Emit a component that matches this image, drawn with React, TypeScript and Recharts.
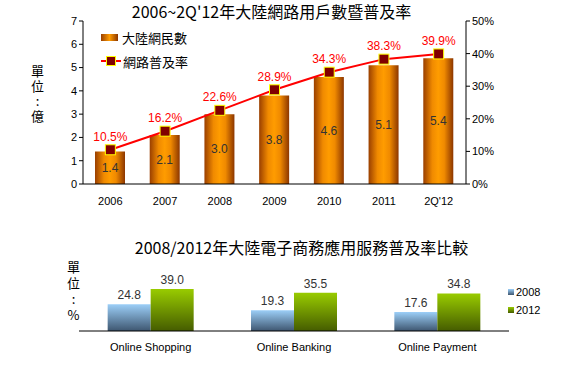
import React from "react";
import {
  ComposedChart,
  BarChart,
  Bar,
  Line,
  XAxis,
  YAxis,
  LabelList,
} from "recharts";

const years = ["2006", "2007", "2008", "2009", "2010", "2011", "2Q'12"];
const netizens = [1.4, 2.1, 3.0, 3.8, 4.6, 5.1, 5.4];
const penetration = [10.5, 16.2, 22.6, 28.9, 34.3, 38.3, 39.9];
const leftTicks = [0, 1, 2, 3, 4, 5, 6, 7];
const rightTicks = [0, 10, 20, 30, 40, 50];

const services = ["Online Shopping", "Online Banking", "Online Payment"];
const rate2008 = [24.8, 19.3, 17.6];
const rate2012 = [39.0, 35.5, 34.8];

const topData = years.map((year, i) => ({
  year,
  idx: i,
  netizens: netizens[i],
  penetration: penetration[i],
}));

const bottomData = services.map((name, i) => ({
  name,
  y2008: rate2008[i],
  y2012: rate2012[i],
}));

const SANS = "'Liberation Sans', Arial, sans-serif";
const CJK = "'Noto Sans CJK TC', 'Liberation Sans', sans-serif";

// square marker with yellow border
const SquareDot = (props: any) => {
  const { cx, cy } = props;
  if (cx == null || cy == null) return null;
  return (
    <rect x={cx - 5} y={cy - 5} width={10} height={10} fill="#800000" stroke="#ffff00" strokeWidth={1} />
  );
};

// unit label written top to bottom
function VerticalLabel({ text, left, top, spacing }: { text: string; left: number; top: number; spacing: number }) {
  return (
    <div
      style={{
        position: "absolute",
        left,
        top,
        fontFamily: CJK,
        fontSize: 13,
        color: "#000",
        writingMode: "vertical-rl",
        textOrientation: "upright",
        letterSpacing: spacing,
        lineHeight: "18px",
      }}
    >
      {text}
    </div>
  );
}

export default function App() {
  return (
    <div style={{ position: "absolute", left: 0, top: 0, width: 571, height: 368, background: "#fff", overflow: "hidden" }}>
      <svg width={0} height={0} style={{ position: "absolute" }}>
        <defs>
          <linearGradient id="cyl" x1="0" y1="0" x2="1" y2="0">
            <stop offset="0%" stopColor="#9a3f00" />
            <stop offset="30%" stopColor="#f08a00" />
            <stop offset="50%" stopColor="#ff9c00" />
            <stop offset="70%" stopColor="#f08a00" />
            <stop offset="100%" stopColor="#8c3600" />
          </linearGradient>
          <linearGradient id="blue" x1="0" y1="0" x2="0" y2="1">
            <stop offset="0%" stopColor="#9ccff8" />
            <stop offset="100%" stopColor="#3e5670" />
          </linearGradient>
          <linearGradient id="green" x1="0" y1="0" x2="0" y2="1">
            <stop offset="0%" stopColor="#99cc00" />
            <stop offset="100%" stopColor="#455c00" />
          </linearGradient>
        </defs>
      </svg>

      {/* top chart */}
      <div style={{ position: "absolute", left: 0, top: 0, width: 571, textAlign: "center", fontFamily: CJK, fontSize: 16, lineHeight: "22px" }}>
        <span style={{ position: "relative", left: -14 }}>2006~2Q'12年大陸網路用戶數暨普及率</span>
      </div>
      <VerticalLabel text="單位:億" left={28} top={65} spacing={2} />

      <div style={{ position: "absolute", left: 0, top: 0 }}>
        <ComposedChart width={571} height={215} data={topData} margin={{ top: 21, right: 65, bottom: 6, left: 53 }}>
          <XAxis
            dataKey="year"
            axisLine={{ stroke: "#000" }}
            tickLine={false}
            tickMargin={7}
            height={25}
            tick={{ fill: "#000", fontSize: 11, fontFamily: SANS }}
          />
          <XAxis
            xAxisId="bound"
            type="number"
            dataKey="idx"
            domain={[0, 7]}
            ticks={[1, 2, 3, 4, 5, 6]}
            mirror
            axisLine={false}
            tick={false}
            tickSize={4}
            tickLine={{ stroke: "#000" }}
            height={0}
          />
          <YAxis
            yAxisId="left"
            domain={[0, 7]}
            ticks={leftTicks}
            width={30}
            tickSize={4}
            axisLine={{ stroke: "#000" }}
            tickLine={{ stroke: "#000" }}
            tick={{ fill: "#000", fontSize: 11, fontFamily: SANS }}
          />
          <YAxis
            yAxisId="right"
            orientation="right"
            domain={[0, 50]}
            ticks={rightTicks}
            width={40}
            tickSize={4}
            axisLine={{ stroke: "#000" }}
            tickLine={{ stroke: "#000" }}
            tickFormatter={(v) => `${v}%`}
            tick={{ fill: "#000", fontSize: 11, fontFamily: SANS }}
          />
          <Bar yAxisId="left" dataKey="netizens" fill="url(#cyl)" barSize={30} isAnimationActive={false}>
            <LabelList dataKey="netizens" position="center" formatter={(v: any) => Number(v).toFixed(1)} style={{ fill: "#333", fontSize: 12, fontFamily: SANS }} />
          </Bar>
          <Line
            yAxisId="right"
            dataKey="penetration"
            stroke="#ff0000"
            strokeWidth={2}
            dot={<SquareDot />}
            activeDot={false}
            isAnimationActive={false}
          >
            <LabelList dataKey="penetration" position="top" offset={9} formatter={(v: any) => `${Number(v).toFixed(1)}%`} style={{ fill: "#ff0000", fontSize: 12, fontFamily: SANS }} />
          </Line>
        </ComposedChart>
      </div>

      {/* top legend */}
      <div style={{ position: "absolute", left: 101, top: 29, fontFamily: CJK, fontSize: 13, color: "#000" }}>
        <div style={{ display: "flex", alignItems: "center", height: 16 }}>
          <span style={{ display: "inline-block", width: 17, height: 7, background: "linear-gradient(to right, #9a3f00, #ff9c00 50%, #8c3600)", marginRight: 4 }} />
          大陸網民數
        </div>
        <div style={{ display: "flex", alignItems: "center", height: 16, marginTop: 8 }}>
          <span style={{ position: "relative", display: "inline-block", width: 20, height: 10, marginRight: 2 }}>
            <span style={{ position: "absolute", left: 0, top: 4, width: 20, height: 2, background: "#ff0000" }} />
            <span style={{ position: "absolute", left: 5, top: 0, width: 8, height: 8, background: "#800000", border: "1px solid #ffff00" }} />
          </span>
          網路普及率
        </div>
      </div>

      {/* bottom chart */}
      <div style={{ position: "absolute", left: 0, top: 236, width: 571, textAlign: "center", fontFamily: CJK, fontSize: 16, lineHeight: "22px" }}>
        <span style={{ position: "relative", left: 16 }}>2008/2012年大陸電子商務應用服務普及率比較</span>
      </div>
      <VerticalLabel text="單位:%" left={64} top={261} spacing={3} />

      <div style={{ position: "absolute", left: 0, top: 255 }}>
        <BarChart width={571} height={113} data={bottomData} margin={{ top: 22, right: 62, bottom: 7, left: 79 }} barCategoryGap="20%" barGap={0}>
          <XAxis
            dataKey="name"
            axisLine={{ stroke: "#000" }}
            tickLine={false}
            tickMargin={6}
            height={30}
            tick={{ fill: "#000", fontSize: 11, fontFamily: SANS }}
          />
          <XAxis
            xAxisId="bound"
            type="number"
            domain={[0, 3]}
            ticks={[0, 1, 2, 3]}
            mirror
            axisLine={false}
            tick={false}
            tickSize={4}
            tickLine={{ stroke: "#000" }}
            height={0}
          />
          <YAxis domain={[0, 50]} hide />
          <Bar dataKey="y2008" fill="url(#blue)" isAnimationActive={false}>
            <LabelList dataKey="y2008" position="top" offset={5} formatter={(v: any) => Number(v).toFixed(1)} style={{ fill: "#333", fontSize: 12, fontFamily: SANS }} />
          </Bar>
          <Bar dataKey="y2012" fill="url(#green)" isAnimationActive={false}>
            <LabelList dataKey="y2012" position="top" offset={5} formatter={(v: any) => Number(v).toFixed(1)} style={{ fill: "#333", fontSize: 12, fontFamily: SANS }} />
          </Bar>
        </BarChart>
      </div>

      {/* bottom legend */}
      <div style={{ position: "absolute", left: 508, top: 285, fontFamily: SANS, fontSize: 11, color: "#000" }}>
        <div style={{ display: "flex", alignItems: "center", height: 14 }}>
          <span style={{ display: "inline-block", width: 6, height: 6, background: "linear-gradient(#9ccff8, #3e5670)", marginRight: 2 }} />
          2008
        </div>
        <div style={{ display: "flex", alignItems: "center", height: 14, marginTop: 4 }}>
          <span style={{ display: "inline-block", width: 6, height: 6, background: "linear-gradient(#99cc00, #455c00)", marginRight: 2 }} />
          2012
        </div>
      </div>
    </div>
  );
}
